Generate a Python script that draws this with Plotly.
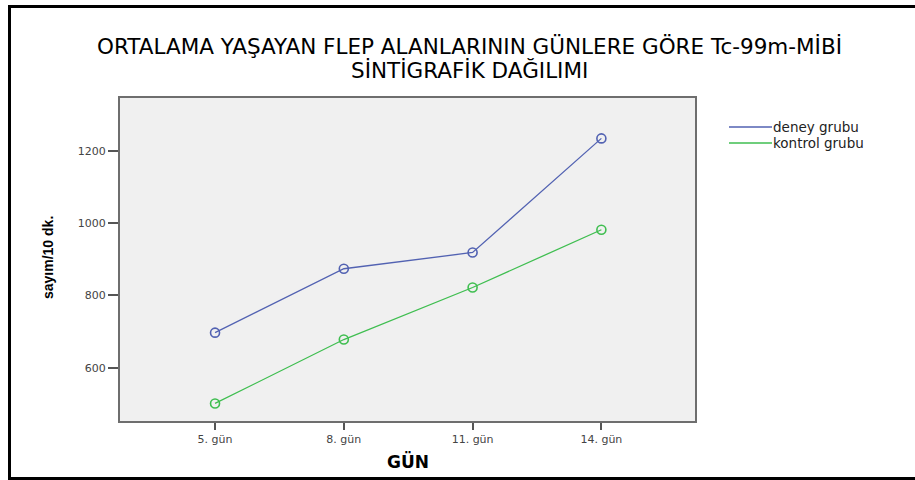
import plotly.graph_objects as go

# Scintigraphic counts per 10 min by day
days = ["5. gün", "8. gün", "11. gün", "14. gün"]
deney = [697, 874, 919, 1235]
kontrol = [501, 678, 822, 982]
y_ticks = [600, 800, 1000, 1200]

series_names = ["deney grubu", "kontrol grubu"]
series_colors = ["#5262B2", "#3FBE50"]

W, H = 915, 480
L, R, T, B = 120, 695, 98, 421  # plot area in pixels


def px(x):
    return (x - L) / (R - L)


def py(y):
    return (B - y) / (B - T)


fig = go.Figure()
for name, vals, col in zip(series_names, [deney, kontrol], series_colors):
    fig.add_trace(go.Scatter(
        x=days, y=vals, name=name, mode="lines+markers",
        line=dict(color=col, width=1.3),
        marker=dict(symbol="circle-open", size=9, color=col, line=dict(width=1.6)),
        showlegend=False,
    ))

font_wide = "DejaVu Sans, Verdana, sans-serif"

annotations = [
    dict(text="ORTALAMA YAŞAYAN FLEP ALANLARININ GÜNLERE GÖRE Tc-99m-MİBİ",
         x=px(469), y=py(47), xref="paper", yref="paper", showarrow=False,
         xanchor="center", yanchor="middle",
         font=dict(family=font_wide, size=21.5, color="#000")),
    dict(text="SİNTİGRAFİK DAĞILIMI",
         x=px(469), y=py(71), xref="paper", yref="paper", showarrow=False,
         xanchor="center", yanchor="middle",
         font=dict(family=font_wide, size=21.5, color="#000")),
    dict(text="<b>sayım/10 dk.</b>", textangle=-90,
         x=px(48), y=py(258), xref="paper", yref="paper", showarrow=False,
         xanchor="center", yanchor="middle",
         font=dict(family="Liberation Sans Narrow, Arial Narrow, Liberation Sans", size=14, color="#000")),
    dict(text="<b>GÜN</b>",
         x=px(408), y=py(461), xref="paper", yref="paper", showarrow=False,
         xanchor="center", yanchor="middle",
         font=dict(family=font_wide, size=17, color="#000")),
]

shapes = []
# legend samples
for i, (name, col) in enumerate(zip(series_names, series_colors)):
    yy = 127 + 16 * i
    shapes.append(dict(type="line", xref="paper", yref="paper",
                       x0=px(729), x1=px(772), y0=py(yy), y1=py(yy),
                       line=dict(color=col, width=1.3)))
    annotations.append(dict(text=name, x=px(771), y=py(yy), xref="paper", yref="paper",
                            showarrow=False, xanchor="left", yanchor="middle",
                            font=dict(family=font_wide, size=13.5, color="#222")))

# outer frame
frame = dict(color="#000", width=3)
shapes += [
    dict(type="line", xref="paper", yref="paper", x0=px(9.5), x1=px(9.5), y0=py(5), y1=py(480), line=frame),
    dict(type="line", xref="paper", yref="paper", x0=px(8), x1=px(915), y0=py(6.5), y1=py(6.5), line=frame),
    dict(type="line", xref="paper", yref="paper", x0=px(8), x1=px(915), y0=py(478.5), y1=py(478.5), line=frame),
]

fig.update_layout(
    width=W, height=H,
    margin=dict(l=L, r=W - R, t=T, b=H - B),
    paper_bgcolor="white", plot_bgcolor="#F0F0F0",
    showlegend=False,
    annotations=annotations, shapes=shapes,
    xaxis=dict(
        type="category", range=[-0.738, 3.727],
        showgrid=False, zeroline=False,
        showline=True, mirror=True, linecolor="#6E6E6E", linewidth=2,
        ticks="outside", ticklen=7, tickcolor="#555", tickwidth=1.5,
        tickfont=dict(family=font_wide, size=11, color="#444"),
    ),
    yaxis=dict(
        range=[452.4, 1346.8], tickvals=y_ticks,
        showgrid=False, zeroline=False,
        showline=True, mirror=True, linecolor="#6E6E6E", linewidth=2,
        ticks="outside", ticklen=10, tickcolor="#555", tickwidth=1.5,
        tickfont=dict(family=font_wide, size=11, color="#444"),
    ),
)

fig.write_html("out.html")
